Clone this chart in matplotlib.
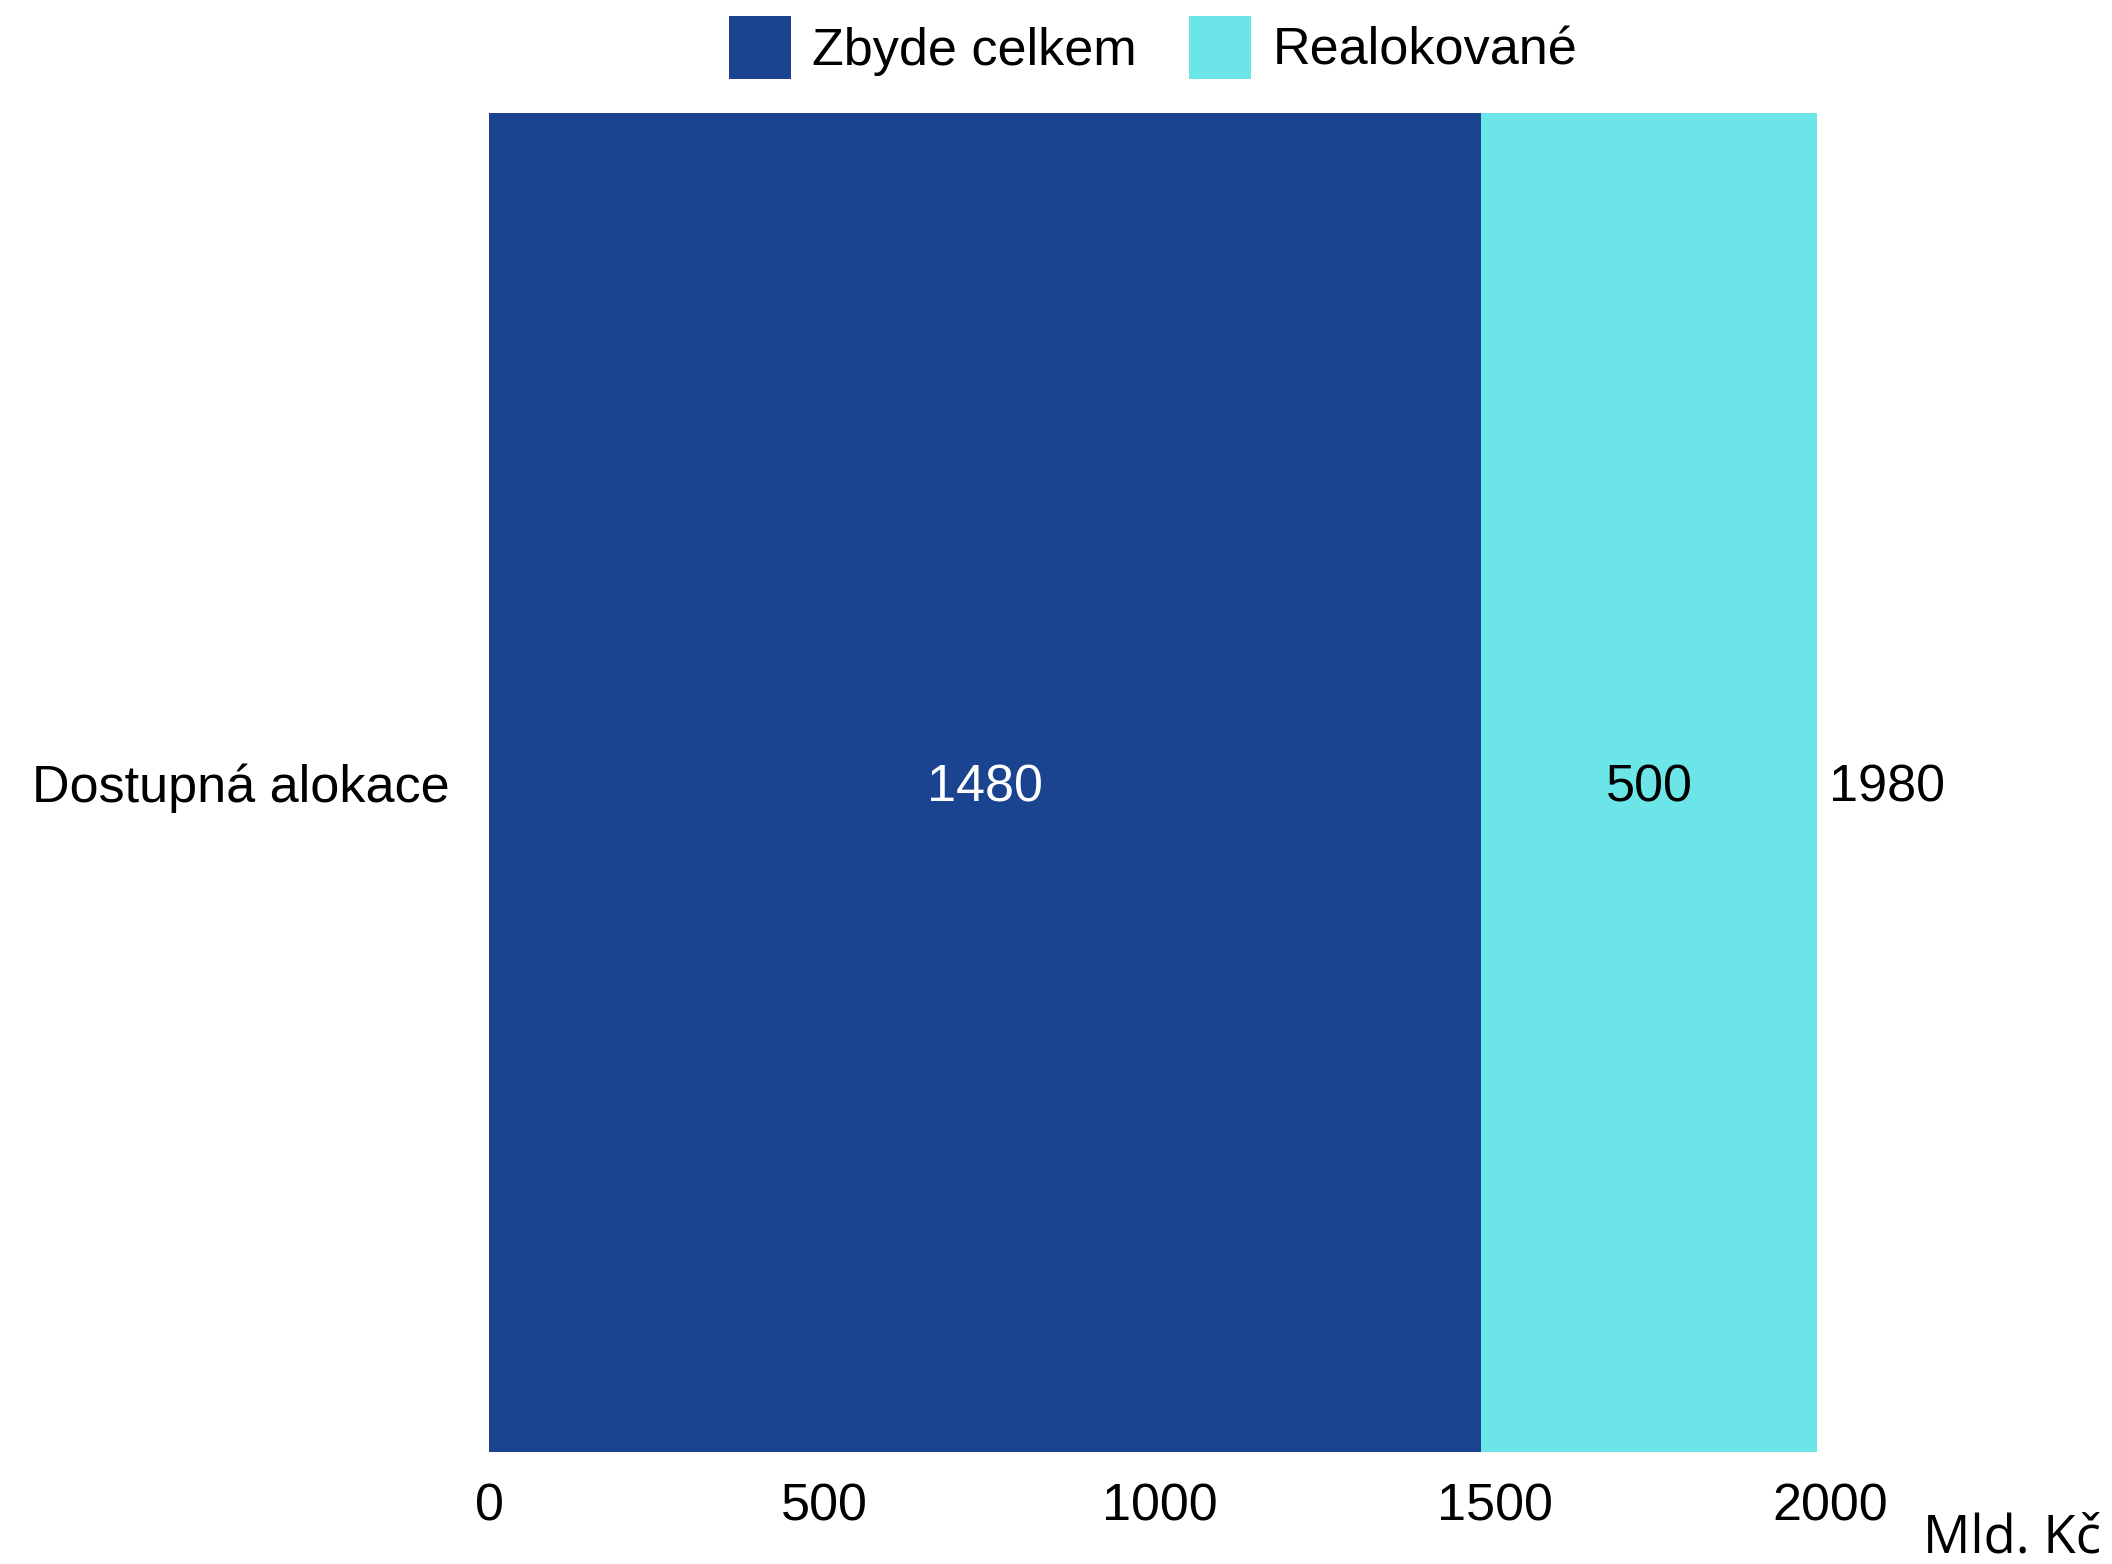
import matplotlib.pyplot as plt

# data
categories = ["Dostupná alokace"]
remaining = [1480]
reallocated = [500]
series_names = ["Zbyde celkem", "Realokované"]
colors = ["#1B4490", "#6BE5E8"]
xticks = [0, 500, 1000, 1500, 2000]
unit = "Mld. Kč"

plt.rcParams["font.family"] = ["Liberation Sans", "DejaVu Sans"]

W, H = 2112, 1564
fig = plt.figure(figsize=(W / 100, H / 100), dpi=100)
ax = fig.add_axes([489 / W, (H - 1452) / H, (1830 - 489) / W, (1452 - 113) / H])

b1 = ax.barh(categories, remaining, height=1.0, color=colors[0], label=series_names[0])
b2 = ax.barh(categories, reallocated, left=remaining, height=1.0, color=colors[1], label=series_names[1])

# segment labels
dy = -0.004
for i, cat in enumerate(categories):
    ax.text(remaining[i] / 2, i + dy, str(remaining[i]), color="white", ha="center", va="center", fontsize=37.5)
    ax.text(remaining[i] + reallocated[i] / 2, i + dy, str(reallocated[i]), color="black", ha="center", va="center", fontsize=37.5)
    total = remaining[i] + reallocated[i]
    ax.text(total + 18, i + dy, str(total), color="black", ha="left", va="center", fontsize=37.5)

ax.set_xlim(0, 2000)
ax.set_ylim(-0.5, 0.5)
ax.set_xticks(xticks)
ax.set_xticklabels([str(t) for t in xticks])
ax.tick_params(axis="x", length=0, pad=22, labelsize=37.5)
ax.tick_params(axis="y", length=0, pad=28, labelsize=37.5)
for s in ax.spines.values():
    s.set_visible(False)

fig.text(2101 / W, 1 - 1539 / H, unit, ha="right", va="center", fontsize=38, family=["Open Sans", "DejaVu Sans"])

fig.legend(handles=[b1, b2], loc="center", bbox_to_anchor=(1153 / W, 1 - 47.5 / H), ncol=2, frameon=False,
           fontsize=37.5, handlelength=1.2, handleheight=1.5, handletextpad=0.4, columnspacing=1.0, borderpad=0)

fig.savefig("out.png", dpi=100, facecolor="white")
